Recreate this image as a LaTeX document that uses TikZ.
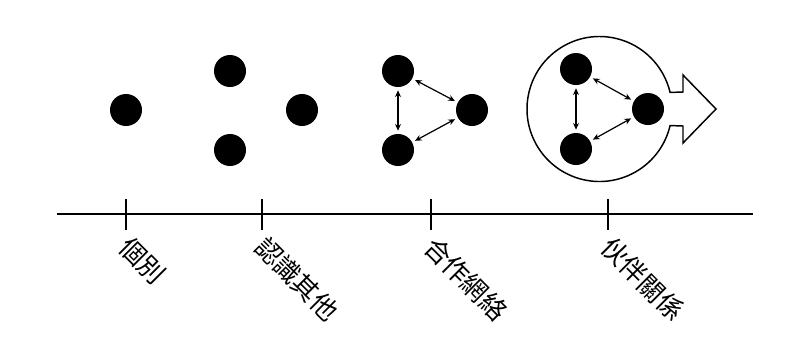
\documentclass[tikz,border=0pt]{standalone}
\usepackage{fontspec}
\newfontfamily\cjk{Noto Sans CJK TC}
\usetikzlibrary{arrows.meta,calc}

\begin{document}
\begin{tikzpicture}[x=0.75pt, y=-0.75pt,
    dot/.style={circle, fill=black, minimum size=24pt, inner sep=0pt, outer sep=2.5pt},
    link/.style={{Stealth[length=5pt,width=4.5pt]}-{Stealth[length=5pt,width=4.5pt]}, line width=0.9pt},
    stage/.style={font=\cjk\fontsize{19.5}{19.5}\selectfont, rotate=-45, anchor=west, inner sep=0pt}]
    \useasboundingbox (0,0) rectangle (798,340);

    % stage 1
    \node[dot] (s1) at (126,110) {};

    % stage 2
    \node[dot] (p1) at (230,71) {};
    \node[dot] (p2) at (230,150) {};
    \node[dot] (p3) at (302,110) {};

    % stage 3
    \node[dot] (n1) at (398,71) {};
    \node[dot] (n2) at (398,150) {};
    \node[dot] (n3) at (472,110) {};
    \draw[link] (n1) -- (n2);
    \draw[link] (n1) -- (n3);
    \draw[link] (n2) -- (n3);

    % stage 4
    \node[dot] (q1) at (576,69) {};
    \node[dot] (q2) at (576,149) {};
    \node[dot] (q3) at (648,109) {};
    \draw[link] (q1) -- (q2);
    \draw[link] (q1) -- (q3);
    \draw[link] (q2) -- (q3);

    % ring with arrow
    \coordinate (ring) at (599.5,109);
    \draw[line width=1.1pt, line join=miter]
        ($(ring)+(13.2:72.5)$) arc[start angle=13.2, end angle=346.8, radius=72.5]
        -- (683,92) -- (683,75) -- (716,109) -- (683,143) -- (683,126) -- cycle;

    % axis
    \coordinate (l) at (57,214);
    \coordinate (r) at (753,214);
    \draw[line width=1pt] (l) -- (r);
    \foreach \x/\name/\txt in {126/a/個別, 262/b/認識其他, 431/c/合作網絡, 608/d/伙伴關係} {
        \coordinate (t\name) at (\x,199);
        \coordinate (b\name) at (\x,230);
        \draw[line width=1pt] (t\name) -- (b\name);
        \node[stage] (lab\name) at (\x-2,242) {\txt};
    }
\end{tikzpicture}
\end{document}
